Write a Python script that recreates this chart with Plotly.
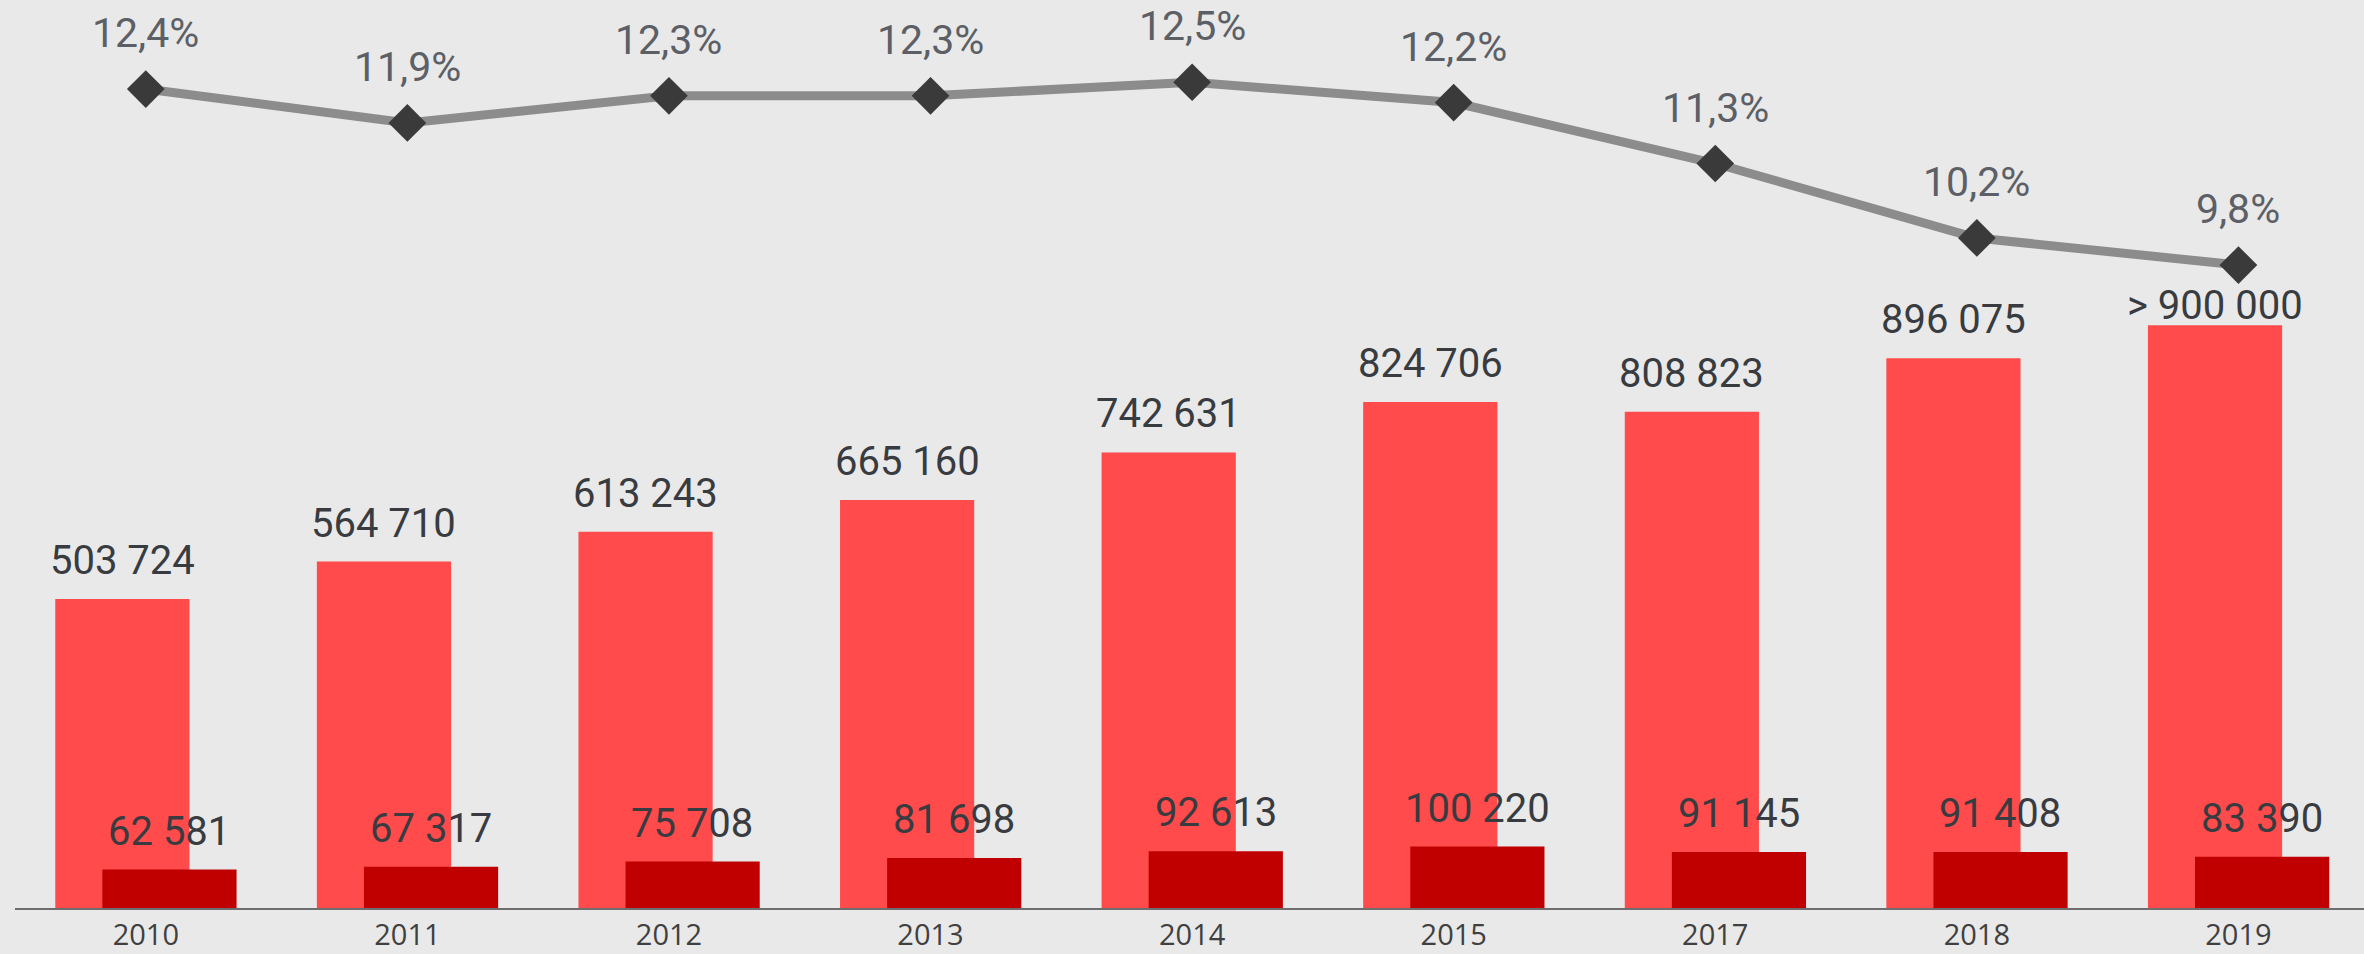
import plotly.graph_objects as go

# ---- data ----
years = ["2010", "2011", "2012", "2013", "2014", "2015", "2017", "2018", "2019"]
total = [503724, 564710, 613243, 665160, 742631, 824706, 808823, 896075, 950000]
total_labels = ["503 724", "564 710", "613 243", "665 160", "742 631",
                "824 706", "808 823", "896 075", "> 900 000"]
subset = [62581, 67317, 75708, 81698, 92613, 100220, 91145, 91408, 83390]
share = [12.4, 11.9, 12.3, 12.3, 12.5, 12.2, 11.3, 10.2, 9.8]


def fmt_int(v):
    return f"{v:,}".replace(",", " ")


def fmt_pct(v):
    return f"{v:.1f}".replace(".", ",") + "%"


# ---- style ----
W, H = 2364, 954
BG = "#e9e9e9"
BIG = "#ff4b4b"
DARK = "#c00000"
LINE = "#8c8c8c"
MARK = "#3a3a3a"
LBL = "#383b40"
PCT = "#5c6066"
BAR_W = 0.513
SHIFT_PX = 23.5

fig = go.Figure()
fig.add_bar(x=years, y=total, width=BAR_W, offset=-0.346,
            marker=dict(color=BIG, line=dict(width=0)), hoverinfo="skip")
fig.add_bar(x=years, y=subset, width=BAR_W, offset=-0.166,
            marker=dict(color=DARK, line=dict(width=0)), hoverinfo="skip")
fig.add_scatter(x=years, y=share, yaxis="y2", mode="lines+markers",
                line=dict(color=LINE, width=9),
                marker=dict(symbol="diamond", size=29, color=MARK),
                hoverinfo="skip")

ann = []
for i, yr in enumerate(years):
    # category axes take the serial index of the category for annotations
    ann.append(dict(x=i, y=total[i], xref="x", yref="y", text=total_labels[i],
                    showarrow=False, yanchor="bottom", xanchor="center",
                    xshift=-SHIFT_PX,
                    yshift=-6 if total_labels[i].startswith(">") else 13,
                    font=dict(family="Roboto", size=40, color=LBL)))
    ann.append(dict(x=i, y=subset[i], xref="x", yref="y", text=fmt_int(subset[i]),
                    showarrow=False, yanchor="bottom", xanchor="center",
                    xshift=SHIFT_PX, yshift=13,
                    font=dict(family="Roboto", size=40, color=LBL)))
    ann.append(dict(x=i, y=share[i], xref="x", yref="y2", text=fmt_pct(share[i]),
                    showarrow=False, yanchor="bottom", xanchor="center",
                    yshift=30,
                    font=dict(family="Roboto", size=41, color=PCT)))

PLOT_H = 908
fig.update_layout(
    width=W, height=H,
    margin=dict(l=15, r=0, t=0, b=H - PLOT_H),
    paper_bgcolor=BG, plot_bgcolor=BG,
    barmode="overlay", showlegend=False,
    annotations=ann,
    xaxis=dict(type="category", range=[-0.5, 8.48], showgrid=False,
               showline=True, linecolor="#6e6e6e", linewidth=2,
               ticks="", zeroline=False, ticklabelstandoff=0,
               tickfont=dict(family="Open Sans", size=29, color="#404040")),
    yaxis=dict(range=[0, PLOT_H * 1630], visible=False, showgrid=False),
    yaxis2=dict(range=[0.303, 13.715], overlaying="y", visible=False,
                showgrid=False),
)

fig.write_html(
    "out.html",
    config={"displayModeBar": False},
    post_script="document.body.style.margin='0';document.body.style.overflow='hidden';",
)
